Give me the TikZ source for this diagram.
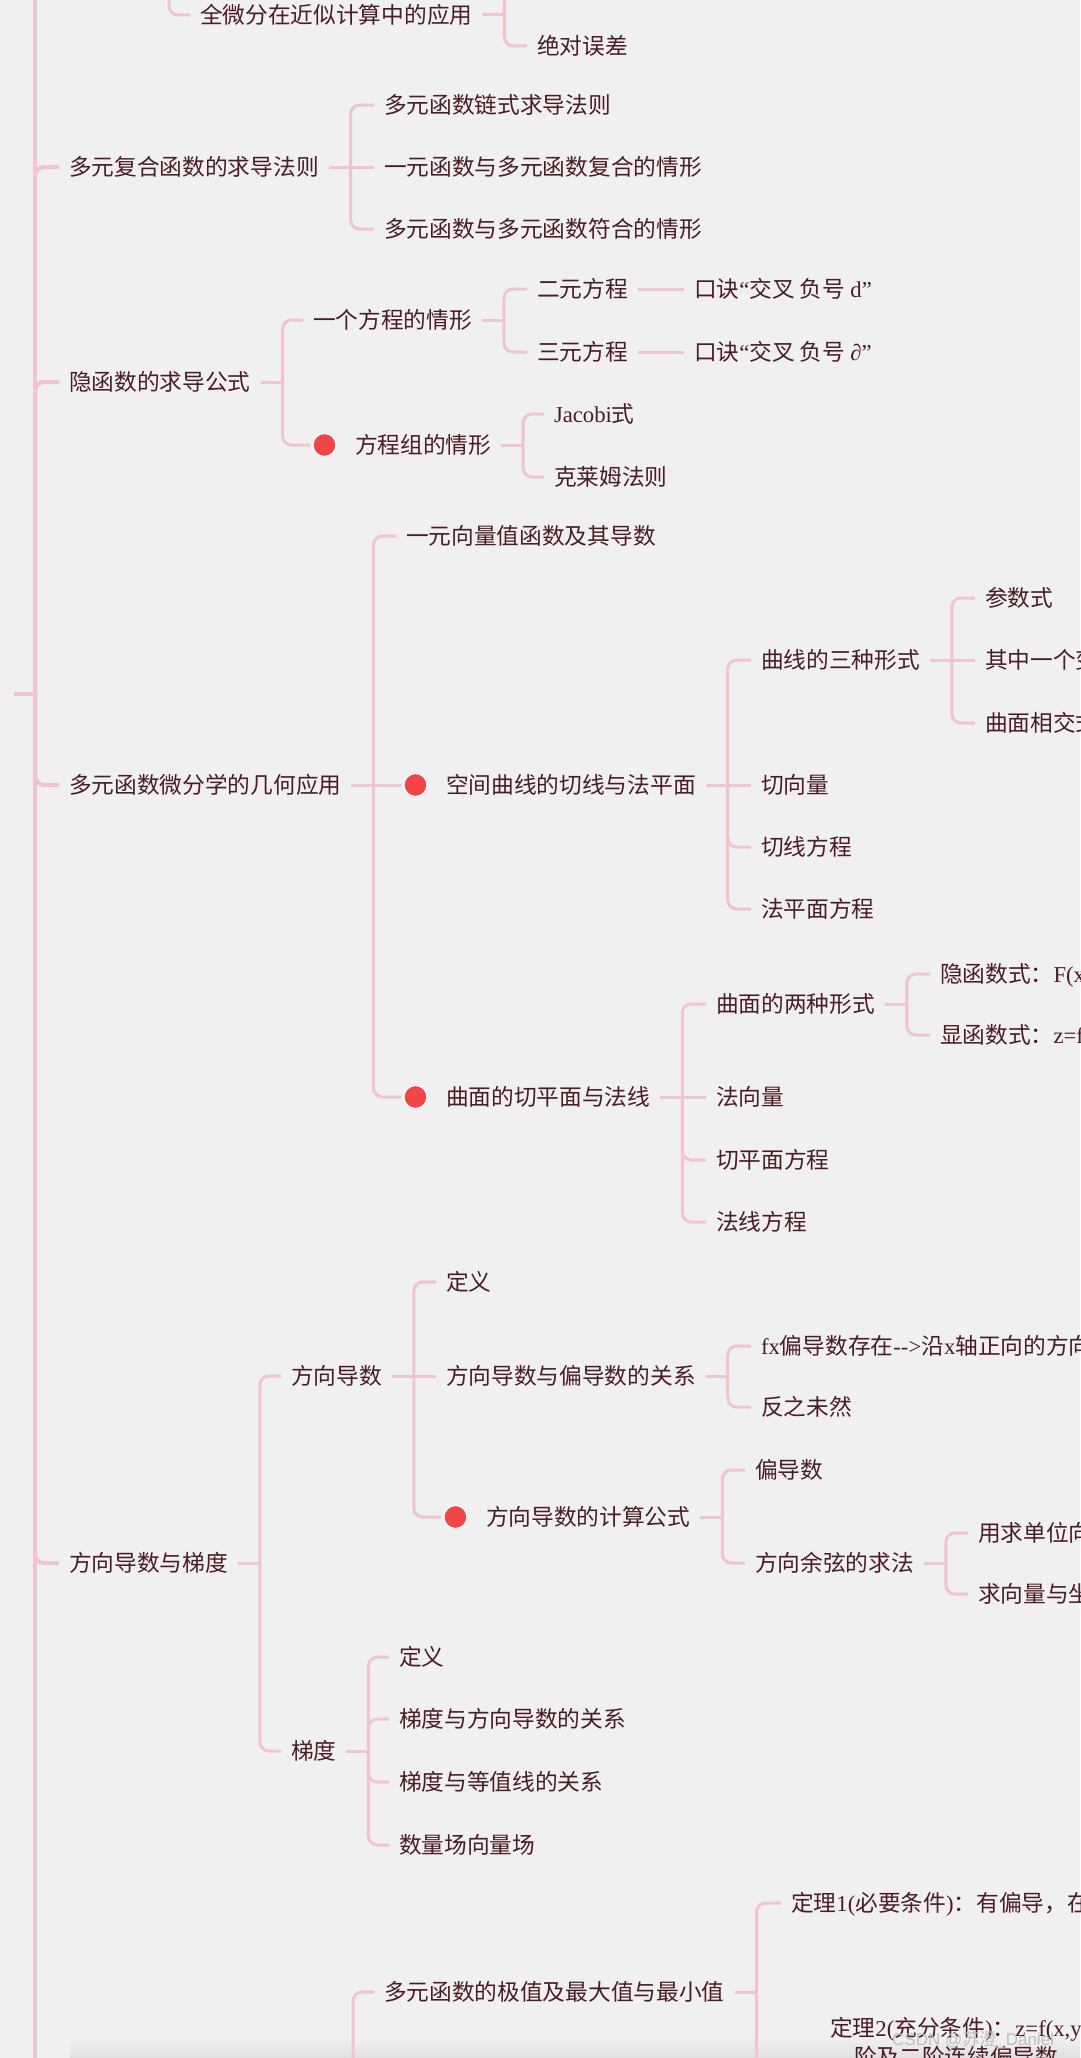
\documentclass[tikz,border=0pt]{standalone}
\usepackage{fontspec}
\setmainfont{Liberation Serif}
\newfontfamily\cjk{Noto Sans CJK SC}
\newfontfamily\wmsans{Liberation Sans}
\usetikzlibrary{positioning}
\definecolor{bg}{HTML}{F0F0F0}
\definecolor{linkpink}{HTML}{F0C5CD}
\definecolor{txt}{HTML}{4A1C24}
\definecolor{dotred}{HTML}{F04646}
\newcommand{\ltn}[1]{{\rmfamily #1}}
\begin{document}
\begin{tikzpicture}[x=1pt, y=-1pt,
	topic/.style={anchor=west, font=\cjk\fontsize{22.7}{29.5}\selectfont, text=txt, inner xsep=0pt, inner ysep=0pt, outer xsep=10pt, outer ysep=0pt, text height=20pt, text depth=2.7pt},
	reddot/.style={circle, fill=dotred, draw=white, line width=1.2pt, minimum size=23pt, inner sep=0pt, outer sep=3pt},
	link/.style={draw=linkpink, line width=3pt, rounded corners=9pt},
	trunk/.style={link, line width=4pt}]
	\useasboundingbox (0,0) rectangle (1080,2058);
	\clip (0,0) rectangle (1080,2058);
	\fill[bg] (0,0) rectangle (1080,2058);
	\shade[top color=bg, bottom color=black!12] (70,2038) rectangle (1080,2058);

	% trunk
	\coordinate (rootin) at (14,694);
	\coordinate (jroot) at (35,694);
	\coordinate (offtop) at (57,-40);
	\coordinate (offbot) at (57,2120);

	% top
	\coordinate (jtop) at (169,-40);
	\node[topic] (qwf) at (190,15) {全微分在近似计算中的应用};
	\coordinate (jqwf) at ([xshift=22pt]qwf.east);
	\coordinate (qwfup) at (527,-40);
	\node[topic] (jdwc) at (527,46) {绝对误差};

	\node[topic] (fhhs) at (59,167) {多元复合函数的求导法则};
	\coordinate (jfhhs) at ([xshift=22pt]fhhs.east);
	\node[topic] (lssd) at (374,105) {多元函数链式求导法则};
	\node[topic] (yyfh) at (374,167) {一元函数与多元函数复合的情形};
	\node[topic] (dyfh) at (374,229) {多元函数与多元函数符合的情形};

	\node[topic] (yhs) at (59,382) {隐函数的求导公式};
	\coordinate (jyhs) at ([xshift=22pt]yhs.east);
	\node[topic] (ygfc) at (303,320) {一个方程的情形};
	\coordinate (jygfc) at ([xshift=22pt]ygfc.east);
	\node[topic] (eyfc) at (527,289) {二元方程};
	\node[topic] (syfc) at (527,352) {三元方程};
	\node[topic] (kj1) at (684,289) {口诀\ltn{“}交叉 负号 \ltn{d”}};
	\node[topic] (kj2) at (684,352) {口诀\ltn{“}交叉 负号 \ltn{∂”}};
	\node[topic] (fcz) at (345,445) {方程组的情形};
	\node[reddot, left=6pt of fcz] (fczd) {};
	\coordinate (jfcz) at ([xshift=22pt]fcz.east);
	\node[topic] (jacobi) at (544,414) {\ltn{Jacobi}式};
	\node[topic] (klm) at (544,477) {克莱姆法则};

	\node[topic] (jhyy) at (59,785) {多元函数微分学的几何应用};
	\coordinate (jjhyy) at ([xshift=22pt]jhyy.east);
	\node[topic] (ylxl) at (396,536) {一元向量值函数及其导数};
	\node[topic] (kjqx) at (436,785) {空间曲线的切线与法平面};
	\node[reddot, left=6pt of kjqx] (kjqxd) {};
	\coordinate (jkjqx) at ([xshift=22pt]kjqx.east);
	\node[topic] (qxxs) at (751,660) {曲线的三种形式};
	\coordinate (jqxxs) at ([xshift=22pt]qxxs.east);
	\node[topic] (csz) at (975,598) {参数式};
	\node[topic] (qzyg) at (975,660) {其中一个变量为参数};
	\node[topic] (qmxj) at (975,723) {曲面相交式};
	\node[topic] (qxl) at (751,785) {切向量};
	\node[topic] (qxfc) at (751,847) {切线方程};
	\node[topic] (fpmfc) at (751,909) {法平面方程};
	\node[topic] (qmqp) at (436,1097) {曲面的切平面与法线};
	\node[reddot, left=6pt of qmqp] (qmqpd) {};
	\coordinate (jqmqp) at ([xshift=22pt]qmqp.east);
	\node[topic] (qmxs) at (706,1004) {曲面的两种形式};
	\coordinate (jqmxs) at ([xshift=22pt]qmxs.east);
	\node[topic] (yhsx) at (930,974) {隐函数式：\ltn{F(x,y,z)=0}};
	\node[topic] (xhsx) at (930,1035) {显函数式：\ltn{z=f(x,y)}};
	\node[topic] (fxl) at (706,1097) {法向量};
	\node[topic] (qpmfc) at (706,1160) {切平面方程};
	\node[topic] (fxfc) at (706,1222) {法线方程};

	\node[topic] (fxds) at (59,1563) {方向导数与梯度};
	\coordinate (jfxds) at ([xshift=22pt]fxds.east);
	\node[topic] (fxd) at (281,1376) {方向导数};
	\coordinate (jfxd) at ([xshift=22pt]fxd.east);
	\node[topic] (dy1) at (436,1282) {定义};
	\node[topic] (gx1) at (436,1376) {方向导数与偏导数的关系};
	\coordinate (jgx1) at ([xshift=22pt]gx1.east);
	\node[topic] (fxpd) at (751,1346) {\ltn{fx}偏导数存在\ltn{-{}-{}>}沿\ltn{x}轴正向的方向导数存在};
	\node[topic] (fzwr) at (751,1407) {反之未然};
	\node[topic] (jsgs) at (476,1517) {方向导数的计算公式};
	\node[reddot, left=6pt of jsgs] (jsgsd) {};
	\coordinate (jjsgs) at ([xshift=22pt]jsgs.east);
	\node[topic] (pds) at (745,1470) {偏导数};
	\node[topic] (fxyx) at (745,1563) {方向余弦的求法};
	\coordinate (jfxyx) at ([xshift=22pt]fxyx.east);
	\node[topic] (dwxl) at (968,1533) {用求单位向量的方法};
	\node[topic] (jjxl) at (968,1594) {求向量与坐标轴夹角};
	\node[topic] (td) at (281,1751) {梯度};
	\coordinate (jtd) at ([xshift=22pt]td.east);
	\node[topic] (dy2) at (389,1657) {定义};
	\node[topic] (gx2) at (389,1719) {梯度与方向导数的关系};
	\node[topic] (gx3) at (389,1782) {梯度与等值线的关系};
	\node[topic] (slc) at (389,1845) {数量场向量场};

	\coordinate (jbot) at (353,2120);
	\node[topic] (jz) at (374,1992) {多元函数的极值及最大值与最小值};
	\coordinate (jjz) at ([xshift=22pt]jz.east);
	\node[topic] (dl1) at (781,1903) {定理\ltn{1(}必要条件\ltn{)}：有偏导，在点\ltn{(x\textsubscript{0},y\textsubscript{0})}处有极值};
	\node[topic, align=left, text height=, text depth=] (dl2) at (781,2072) {\hspace*{39pt}定理\ltn{2(}充分条件\ltn{)}：\ltn{z=f(x,y)}在点\ltn{(x\textsubscript{0},y\textsubscript{0})}的某邻域内连续且有一\\\hspace*{63pt}阶及二阶连续偏导数，又\ltn{f\textsubscript{x}(x\textsubscript{0},y\textsubscript{0})=0}\\令\ltn{f\textsubscript{xx}(x\textsubscript{0},y\textsubscript{0})=A}，\ltn{f\textsubscript{xy}(x\textsubscript{0},y\textsubscript{0})=B}\\则\ltn{AC-B\textsuperscript{2}>0}时具有极值};

	\draw[trunk] (rootin) -- (jroot);
	\draw[trunk] (jroot) |- (offtop);
	\draw[trunk] (jroot) |- (offbot);
	\draw[trunk] (jroot) |- (fhhs);
	\draw[trunk] (jroot) |- (yhs);
	\draw[trunk] (jroot) |- (jhyy);
	\draw[trunk] (jroot) |- (fxds);

	\draw[link] (jtop) |- (qwf);
	\draw[link] (qwf) -- (jqwf);
	\draw[link] (jqwf) |- (qwfup);
	\draw[link] (jqwf) |- (jdwc);

	\draw[link] (fhhs) -- (jfhhs);
	\draw[link] (jfhhs) |- (lssd);
	\draw[link] (jfhhs) -- (yyfh);
	\draw[link] (jfhhs) |- (dyfh);

	\draw[link] (yhs) -- (jyhs);
	\draw[link] (jyhs) |- (ygfc);
	\draw[link] (jyhs) |- (fczd);
	\draw[link] (ygfc) -- (jygfc);
	\draw[link] (jygfc) |- (eyfc);
	\draw[link] (jygfc) |- (syfc);
	\draw[link] (eyfc) -- (kj1);
	\draw[link] (syfc) -- (kj2);
	\draw[link] (fcz) -- (jfcz);
	\draw[link] (jfcz) |- (jacobi);
	\draw[link] (jfcz) |- (klm);

	\draw[link] (jhyy) -- (jjhyy);
	\draw[link] (jjhyy) |- (ylxl);
	\draw[link] (jjhyy) -- (kjqxd);
	\draw[link] (jjhyy) |- (qmqpd);
	\draw[link] (kjqx) -- (jkjqx);
	\draw[link] (jkjqx) |- (qxxs);
	\draw[link] (jkjqx) -- (qxl);
	\draw[link] (jkjqx) |- (qxfc);
	\draw[link] (jkjqx) |- (fpmfc);
	\draw[link] (qxxs) -- (jqxxs);
	\draw[link] (jqxxs) |- (csz);
	\draw[link] (jqxxs) -- (qzyg);
	\draw[link] (jqxxs) |- (qmxj);
	\draw[link] (qmqp) -- (jqmqp);
	\draw[link] (jqmqp) |- (qmxs);
	\draw[link] (jqmqp) -- (fxl);
	\draw[link] (jqmqp) |- (qpmfc);
	\draw[link] (jqmqp) |- (fxfc);
	\draw[link] (qmxs) -- (jqmxs);
	\draw[link] (jqmxs) |- (yhsx);
	\draw[link] (jqmxs) |- (xhsx);

	\draw[link] (fxds) -- (jfxds);
	\draw[link] (jfxds) |- (fxd);
	\draw[link] (jfxds) |- (td);
	\draw[link] (fxd) -- (jfxd);
	\draw[link] (jfxd) |- (dy1);
	\draw[link] (jfxd) -- (gx1);
	\draw[link] (jfxd) |- (jsgsd);
	\draw[link] (gx1) -- (jgx1);
	\draw[link] (jgx1) |- (fxpd);
	\draw[link] (jgx1) |- (fzwr);
	\draw[link] (jsgs) -- (jjsgs);
	\draw[link] (jjsgs) |- (pds);
	\draw[link] (jjsgs) |- (fxyx);
	\draw[link] (fxyx) -- (jfxyx);
	\draw[link] (jfxyx) |- (dwxl);
	\draw[link] (jfxyx) |- (jjxl);
	\draw[link] (td) -- (jtd);
	\draw[link] (jtd) |- (dy2);
	\draw[link] (jtd) |- (gx2);
	\draw[link] (jtd) |- (gx3);
	\draw[link] (jtd) |- (slc);

	\draw[link] (jbot) |- (jz);
	\draw[link] (jz) -- (jjz);
	\draw[link] (jjz) |- (dl1);
	\draw[link] (jjz) |- (dl2);

	\node[anchor=west, text=black!25, font=\wmsans\fontsize{17}{20}\selectfont, inner sep=0pt] (wm) at (892,2040) {CSDN @{\cjk 苏澄}\_Daniel};
\end{tikzpicture}
\end{document}
